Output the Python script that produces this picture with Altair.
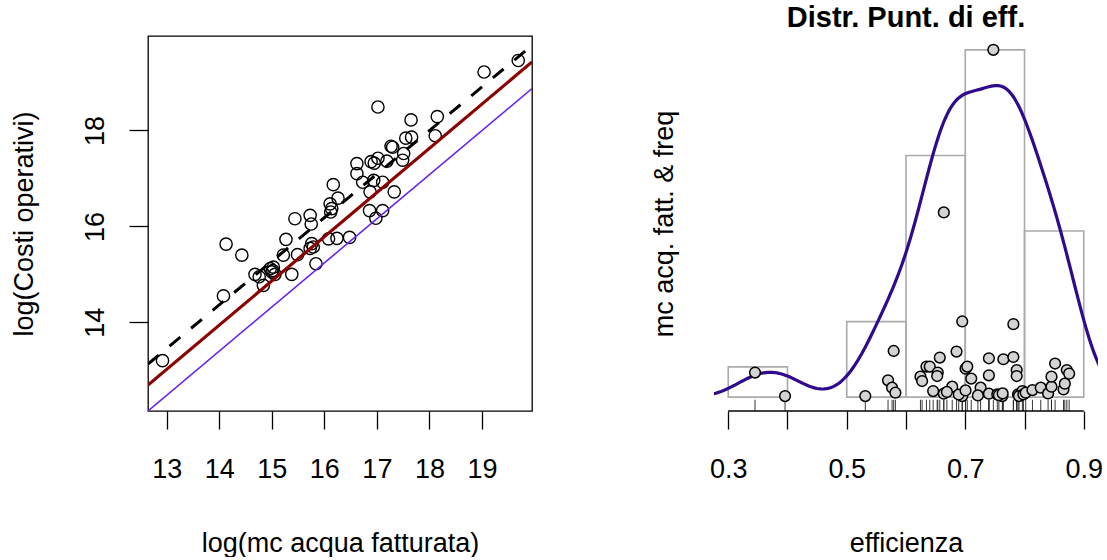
import altair as alt
import pandas as pd
import numpy as np

# ---------------- data: left panel ----------------
log_mc = [12.92, 14.08, 14.13, 14.43, 14.68, 14.76, 14.84, 14.97, 15.00, 15.06,
          15.03, 15.22, 15.27, 15.38, 15.44, 15.49, 15.73, 15.75, 15.76, 15.73,
          15.79, 15.84, 16.08, 16.24, 16.48, 16.11, 16.14, 16.12, 16.26, 16.17,
          16.62, 16.62, 16.73, 16.87, 16.86, 16.98, 17.11, 17.33, 16.94, 17.11,
          16.89, 17.02, 17.19, 17.27, 17.49, 17.51, 17.55, 17.66, 17.65, 17.02,
          18.11, 18.15, 19.04, 19.69, 16.95, 17.30, 15.02]
log_costi = [13.20, 14.55, 15.63, 15.40, 15.00, 14.95, 14.77, 15.12, 15.05, 15.00,
             15.15, 15.40, 15.73, 15.00, 16.16, 15.41, 16.23, 16.05, 15.64, 15.54,
             15.57, 15.22, 15.74, 15.75, 15.77, 16.47, 16.37, 16.30, 16.59, 16.87,
             17.31, 17.10, 16.92, 16.72, 16.33, 16.17, 16.33, 16.72, 16.96, 16.92,
             17.35, 17.42, 17.36, 17.67, 17.38, 17.52, 17.84, 17.86, 18.22, 18.49,
             17.89, 18.29, 19.22, 19.46, 17.32, 17.65, 15.08]

# fitted lines y = a + b*x
line_a = [0.518, 1.032, 1.637]
line_b = [0.920, 0.922, 0.909]
line_color = ["#6622EE", "#8B0000", "#000000"]

x_ticks_left = [13, 14, 15, 16, 17, 18, 19]
y_ticks_left = [14, 16, 18]

# ---------------- data: right panel ----------------
eff = [0.3452, 0.3959,
       0.5313, 0.5792, 0.5697, 0.5765, 0.5821,
       0.6244, 0.6272, 0.6345, 0.6401, 0.6536, 0.6526, 0.6570, 0.6458, 0.6638, 0.6780,
       0.6853, 0.6949, 0.6949, 0.6638, 0.6890, 0.6690,
       0.7005, 0.7034, 0.7101, 0.7005, 0.7259, 0.7213, 0.7399, 0.7399, 0.7399, 0.7541,
       0.7626, 0.7643, 0.7812, 0.7812, 0.7868, 0.7868, 0.7890, 0.7964, 0.7474, 0.7907,
       0.7981, 0.7568, 0.7631,
       0.8020, 0.8134, 0.8274, 0.8398, 0.8455, 0.8455, 0.8516, 0.8658, 0.8680, 0.8714,
       0.8753]
mc_scaled = [0.285, 0.012,
             0.012, 0.536, 0.195, 0.110, 0.051,
             0.238, 0.187, 0.355, 0.355, 0.285, 0.245, 0.459, 0.070, 0.040, 0.121,
             0.529, 0.879, 0.012, 2.146, 0.030, 0.060,
             0.331, 0.355, 0.215, 0.078, 0.110, 0.020, 0.451, 0.253, 0.040, 0.031,
             0.012, 0.440, 0.848, 0.466, 0.315, 0.245, 0.031, 0.070, 4.035, 0.012,
             0.031, 0.023, 0.043,
             0.051, 0.082, 0.110, 0.043, 0.121, 0.238, 0.390, 0.090, 0.156, 0.315,
             0.273]
x_ticks_right = [0.3, 0.4, 0.5, 0.6, 0.7, 0.8, 0.9]
x_labels_right = ["0.3", "0.5", "0.7", "0.9"]

# ---------------- layout / style ----------------
W, H = 384, 375
FONT = "Liberation Sans"
FS = 27
XL = [12.644, 19.952]
YL = [12.15, 19.97]
XR = [0.276, 0.924]
YR = [-0.1614, 4.196]

df_left = pd.DataFrame({"x": log_mc, "y": log_costi})
df_lines = pd.DataFrame({
    "x": [XL[0]] * 3, "x2": [XL[1]] * 3,
    "y": [a + b * XL[0] for a, b in zip(line_a, line_b)],
    "y2": [a + b * XL[1] for a, b in zip(line_a, line_b)],
    "col": line_color,
})
df_eff = pd.DataFrame({"eff": eff, "mc": mc_scaled})

common_axis = dict(grid=False, domain=False, tickColor="black", tickWidth=1.3,
                   labelFont=FONT, labelFontSize=FS, labelColor="black",
                   titleFont=FONT, titleFontSize=FS, titleFontWeight="normal",
                   titleColor="black", labelOverlap=False, labelFlush=False)

x_axis_l = alt.Axis(values=x_ticks_left, title="log(mc acqua fatturata)", tickSize=18,
                    labelPadding=48.5, labelBaseline="alphabetic", titleX=W / 2,
                    titleY=140, titleBaseline="alphabetic", titleAlign="center",
                    **common_axis)
y_axis_l = alt.Axis(values=y_ticks_left, title="log(Costi operativi)", tickSize=19,
                    labelAngle=270, labelAlign="center", labelBaseline="alphabetic",
                    labelPadding=26, titleX=-116, titleY=H / 2, titleAngle=270,
                    titleBaseline="alphabetic", titleAlign="center", **common_axis)

xs_l = alt.Scale(domain=XL, nice=False, zero=False)
ys_l = alt.Scale(domain=YL, nice=False, zero=False)

pts_l = alt.Chart(df_left).mark_point(shape="circle", filled=False, stroke="black",
                                      strokeWidth=1.4, size=150, opacity=1).encode(
    x=alt.X("x:Q", scale=xs_l, axis=x_axis_l),
    y=alt.Y("y:Q", scale=ys_l, axis=y_axis_l),
)

def line_layer(i, width, dash=None):
    kw = dict(color=line_color[i], strokeWidth=width, clip=True)
    if dash:
        kw["strokeDash"] = dash
    return alt.Chart(df_lines.iloc[[i]]).mark_rule(**kw).encode(
        x=alt.X("x:Q", scale=xs_l, axis=x_axis_l),
        y=alt.Y("y:Q", scale=ys_l, axis=y_axis_l),
        x2="x2:Q", y2="y2:Q",
    )

left = alt.layer(
    pts_l,
    line_layer(2, 3, [14, 14]),
    line_layer(1, 3.2),
    line_layer(0, 1.6),
).properties(width=W, height=H, view=alt.ViewBackground(stroke="black", strokeWidth=1.3))

# ---------------- right panel ----------------
xs_r = alt.Scale(domain=XR, nice=False, zero=False)
ys_r = alt.Scale(domain=YR, nice=False, zero=False)
lab_test = "indexof(" + str(x_labels_right) + ", format(datum.value, '.1f')) >= 0 ? format(datum.value, '.1f') : ''"
x_axis_r = alt.Axis(values=x_ticks_right, title="efficienza", tickSize=18,
                    labelExpr=lab_test, labelPadding=48.5, labelBaseline="alphabetic",
                    titleX=W / 2, titleY=140, titleBaseline="alphabetic", titleAlign="center",
                    **common_axis)
y_axis_r = alt.Axis(labels=False, ticks=False, title="mc acq. fatt. & freq", titleX=-42,
                    titleY=H / 2, titleAngle=270, titleBaseline="alphabetic",
                    titleAlign="center", **common_axis)

n_eff = len(eff)
bw = 0.9 * min(np.std(eff, ddof=1), (np.percentile(eff, 75) - np.percentile(eff, 25)) / 1.34) * n_eff ** (-0.2)

hist = alt.Chart(df_eff).transform_joinaggregate(n="count()").transform_bin(
    "b", "eff", bin=alt.Bin(extent=[0.3, 0.9], step=0.1)
).transform_aggregate(cnt="count()", groupby=["b", "b_end", "n"]).transform_calculate(
    dens="datum.cnt / (datum.n * (datum.b_end - datum.b))"
).mark_rect(fill="white", fillOpacity=0, stroke="#AAAAAA", strokeWidth=1.6).encode(
    x=alt.X("b:Q", scale=xs_r, axis=x_axis_r),
    x2="b_end:Q",
    y=alt.Y("dens:Q", scale=ys_r, axis=y_axis_r),
    y2=alt.datum(0),
)

dens = alt.Chart(df_eff).transform_density(
    "eff", as_=["eff", "dens"], bandwidth=float(bw), extent=[0.15, 1.05], steps=300
).mark_line(color="#300A8E", strokeWidth=3.2, clip=True).encode(
    x=alt.X("eff:Q", scale=xs_r, axis=x_axis_r),
    y=alt.Y("dens:Q", scale=ys_r, axis=y_axis_r),
)

rug = alt.Chart(df_eff).mark_rule(color="#222222", strokeWidth=0.9).encode(
    x=alt.X("eff:Q", scale=xs_r, axis=x_axis_r),
    y=alt.value(H - 11.25), y2=alt.value(H),
)

axis_line = alt.Chart(pd.DataFrame({"a": [min(x_ticks_right)], "b": [max(x_ticks_right)]})).mark_rule(
    color="black", strokeWidth=1.3).encode(
    x=alt.X("a:Q", scale=xs_r, axis=x_axis_r), x2="b:Q", y=alt.value(H),
)

pts_r = alt.Chart(df_eff).mark_point(shape="circle", filled=True, fill="#D3D3D3", stroke="black",
                                     strokeWidth=1.5, size=115, opacity=1, fillOpacity=1).encode(
    x=alt.X("eff:Q", scale=xs_r, axis=x_axis_r),
    y=alt.Y("mc:Q", scale=ys_r, axis=y_axis_r),
)

right = alt.layer(hist, dens, rug, axis_line, pts_r).properties(
    width=W, height=H,
    title=alt.TitleParams("Distr. Punt. di eff.", font=FONT, fontSize=29, fontWeight="bold",
                          anchor="middle", baseline="alphabetic", offset=-20, color="black"),
)

chart = alt.hconcat(left, right, spacing=182, bounds="flush").properties(
    padding={"left": 9, "top": 4, "right": 0, "bottom": 0}, background="white"
).configure_view(strokeWidth=0)

chart.save("out.html", embed_options={"renderer": "svg", "actions": False})
